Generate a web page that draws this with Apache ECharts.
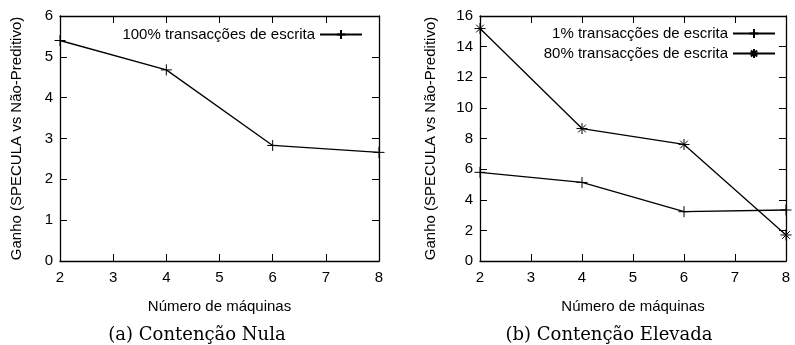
<!DOCTYPE html>
<html lang="pt">
<head>
  <meta charset="UTF-8">
  <title>Ganho SPECULA</title>
  <script src="https://cdn.jsdelivr.net/npm/echarts@6/dist/echarts.min.js"></script>
  <style>
    html, body { margin:0; padding:0; background:#fff; }
  </style>
</head>
<body>
<div id="main" style="width:795px;height:345px"></div>
<script>
  // dados
  var maquinas = [2, 4, 6, 8];
  var nula100 = [5.40, 4.68, 2.83, 2.66];
  var elevada1 = [5.79, 5.13, 3.22, 3.33];
  var elevada80 = [15.18, 8.65, 7.61, 1.70];

  var plus = 'path://M0,5L10,5M5,0L5,10';
  var star = 'path://M0,5L10,5M5,0L5,10M1.5,1.5L8.5,8.5M1.5,8.5L8.5,1.5';
  var font = 'Liberation Sans';

  function pares(ys){
    return maquinas.map(function(x, i){ return [x, ys[i]]; });
  }

  function eixoX(grid, pos, show){
    return {
      type:'value', gridIndex:grid, position:pos, min:2, max:8, interval:1,
      name: show ? 'Número de máquinas' : '', nameLocation:'middle', nameGap:38,
      nameTextStyle:{color:'#000', fontSize:15, fontFamily:font},
      axisLine:{show:true, onZero:false, lineStyle:{color:'#000', width:1.3}},
      axisTick:{show:true, inside:true, length:7, lineStyle:{color:'#000'}},
      axisLabel:{show:show, color:'#000', fontSize:15, fontFamily:font, margin:9},
      splitLine:{show:false}
    };
  }

  function eixoY(grid, pos, show, max, step, gap){
    return {
      type:'value', gridIndex:grid, position:pos, min:0, max:max, interval:step,
      name: show ? 'Ganho (SPECULA vs Não-Preditivo)' : '', nameLocation:'middle', nameGap:gap,
      nameTextStyle:{color:'#000', fontSize:15, fontFamily:font},
      axisLine:{show:true, onZero:false, lineStyle:{color:'#000', width:1.3}},
      axisTick:{show:true, inside:true, length:7, lineStyle:{color:'#000'}},
      axisLabel:{show:show, color:'#000', fontSize:15, fontFamily:font, margin:7},
      splitLine:{show:false}
    };
  }

  function serie(nome, xi, yi, ys, sym){
    return {
      type:'line', name:nome, xAxisIndex:xi, yAxisIndex:yi, data:pares(ys),
      symbol:sym, symbolSize:11, showSymbol:true, clip:false,
      lineStyle:{color:'#000', width:1.3},
      itemStyle:{color:'#000', borderColor:'#000', borderWidth:1},
      emphasis:{disabled:true}
    };
  }

  var chart = echarts.init(document.getElementById('main'));
  chart.setOption({
    animation:false,
    backgroundColor:'#fff',
    grid:[
      {left:60, top:16, width:319, height:245},
      {left:480, top:16, width:306, height:245}
    ],
    title:[
      {text:'(a) Contenção Nula', left:197, top:326, padding:0, textAlign:'center',
       textStyle:{fontFamily:'DejaVu Serif', fontSize:18, fontWeight:'normal', color:'#000'}},
      {text:'(b) Contenção Elevada', left:609, top:326, padding:0, textAlign:'center',
       textStyle:{fontFamily:'DejaVu Serif', fontSize:18, fontWeight:'normal', color:'#000'}}
    ],
    legend:[
      {data:['100% transacções de escrita'], right:795-363, top:27, align:'right',
       itemWidth:42, itemHeight:11, padding:0, itemGap:5,
       textStyle:{fontFamily:font, fontSize:15, color:'#000'}},
      {data:['1% transacções de escrita','80% transacções de escrita'], right:795-776, top:26,
       orient:'vertical', align:'right', itemGap:5, padding:0,
       itemWidth:42, itemHeight:11,
       textStyle:{fontFamily:font, fontSize:15, color:'#000'}}
    ],
    xAxis:[
      eixoX(0,'bottom',true), eixoX(0,'top',false),
      eixoX(1,'bottom',true), eixoX(1,'top',false)
    ],
    yAxis:[
      eixoY(0,'left',true,6,1,36), eixoY(0,'right',false,6,1,0),
      eixoY(1,'left',true,16,2,42), eixoY(1,'right',false,16,2,0)
    ],
    series:[
      serie('100% transacções de escrita', 0, 0, nula100, plus),
      serie('1% transacções de escrita', 2, 2, elevada1, plus),
      serie('80% transacções de escrita', 2, 2, elevada80, star)
    ]
  });
</script>
</body>
</html>
